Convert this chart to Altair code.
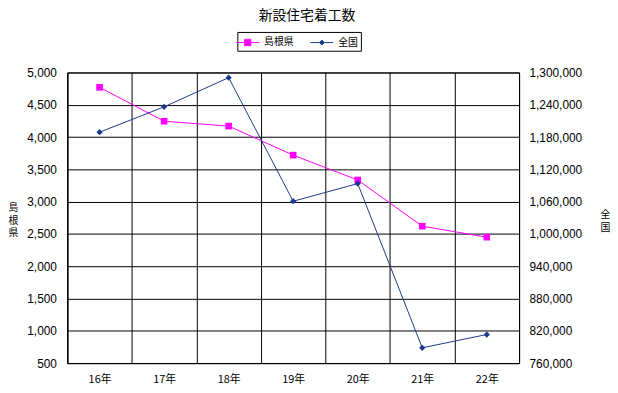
import altair as alt
import pandas as pd

years = ["16年", "17年", "18年", "19年", "20年", "21年", "22年"]
shimane = [4770, 4245, 4170, 3720, 3335, 2620, 2450]
zenkoku = [1189049, 1236175, 1290391, 1060741, 1093519, 788410, 813126]
series_names = ["島根県", "全国"]
series_colors = ["#FF00FF", "#1C3A8C"]

left_ticks = list(range(500, 5001, 500))
right_ticks = list(range(760000, 1300001, 60000))

df1 = pd.DataFrame({"year": years, "value": shimane, "series": series_names[0]})
df2 = pd.DataFrame({"year": years, "value": zenkoku, "series": series_names[1]})
dleg = pd.DataFrame({"series": series_names})

FONT = "Liberation Sans, Noto Sans CJK JP"
CJK = "Noto Sans CJK JP"

xscale = alt.Scale(type="band", paddingInner=0, paddingOuter=0, domain=years)
xaxis = alt.Axis(
    title=None, tickBand="extent", grid=True, gridColor="#000000", gridWidth=1,
    ticks=False, labelAngle=0, labelPadding=11, labelFontSize=11, labelFont=CJK,
    domainColor="#000000", labelColor="#000000",
)

l1 = alt.Chart(df1).mark_line(
    color=series_colors[0], strokeWidth=1,
    point=alt.OverlayMarkDef(shape="square", size=45, filled=True, color=series_colors[0]),
).encode(
    x=alt.X("year:N", bandPosition=0.5, scale=xscale, axis=xaxis, sort=years),
    y=alt.Y("value:Q", scale=alt.Scale(domain=[500, 5000], nice=False, zero=False),
            axis=alt.Axis(values=left_ticks, format=",d", title=["島", "根", "県"],
                          titleAngle=0, titleFont=CJK, titleFontSize=10, titleFontWeight="normal",
                          titleX=-55, titleY=137, titleBaseline="middle", titleAlign="center",
                          titleLineHeight=12.5,
                          grid=True, gridColor="#000000", gridWidth=1, ticks=False,
                          labelPadding=11, labelFontSize=12, labelFont=FONT,
                          domainColor="#000000", labelColor="#000000")),
)

l2 = alt.Chart(df2).mark_line(
    color=series_colors[1], strokeWidth=1,
    point=alt.OverlayMarkDef(shape="diamond", size=40, filled=True, color=series_colors[1]),
).encode(
    x=alt.X("year:N", bandPosition=0.5, scale=xscale, axis=xaxis, sort=years),
    y=alt.Y("value:Q", scale=alt.Scale(domain=[760000, 1300000], nice=False, zero=False),
            axis=alt.Axis(orient="right", values=right_ticks, format=",d", title=["全", "国"],
                          titleAngle=0, titleFont=CJK, titleFontSize=10, titleFontWeight="normal",
                          titleX=87, titleY=144, titleBaseline="middle", titleAlign="center",
                          titleLineHeight=12.5,
                          grid=False, ticks=False,
                          labelPadding=10, labelFontSize=12, labelFont=FONT,
                          domainColor="#000000", labelColor="#000000")),
)

sq = "M-1.65,0H-0.45M0.45,0H1.65M-0.45,-0.45H0.45V0.45H-0.45Z"
dm = "M-1.65,0H-0.36M0.36,0H1.65M0,-0.36L0.36,0L0,0.36L-0.36,0Z"

legend_def = alt.Legend(orient="none", legendX=172, legendY=-41, direction="horizontal",
                        title=None, strokeColor="#000000", fillColor="#FFFFFF",
                        padding=3, symbolOpacity=1, symbolSize=196,
                        symbolStrokeWidth=1, labelOffset=9, columnPadding=14,
                        labelFont=CJK, labelFontSize=10, labelColor="#000000")

leg = alt.Chart(dleg).mark_point(filled=True, opacity=0).encode(
    fill=alt.Fill("series:N", scale=alt.Scale(domain=series_names, range=series_colors),
                  legend=legend_def),
    stroke=alt.Stroke("series:N", scale=alt.Scale(domain=series_names, range=series_colors),
                      legend=legend_def),
    shape=alt.Shape("series:N", scale=alt.Scale(domain=series_names, range=[sq, dm]),
                    legend=legend_def),
)

chart = alt.layer(l1, l2, leg).resolve_scale(y="independent").properties(
    width=457, height=294,
    title=alt.Title("新設住宅着工数", font=CJK, fontSize=14, fontWeight="normal", color="#000000",
                    anchor="middle", dx=14, offset=9),
    autosize=alt.AutoSizeParams(type="none"),
    padding={"left": 60, "top": 63, "right": 92, "bottom": 26},
).configure_view(stroke="#000000", strokeWidth=1)

chart.save("out.html", embed_options={"renderer": "svg", "actions": False})
